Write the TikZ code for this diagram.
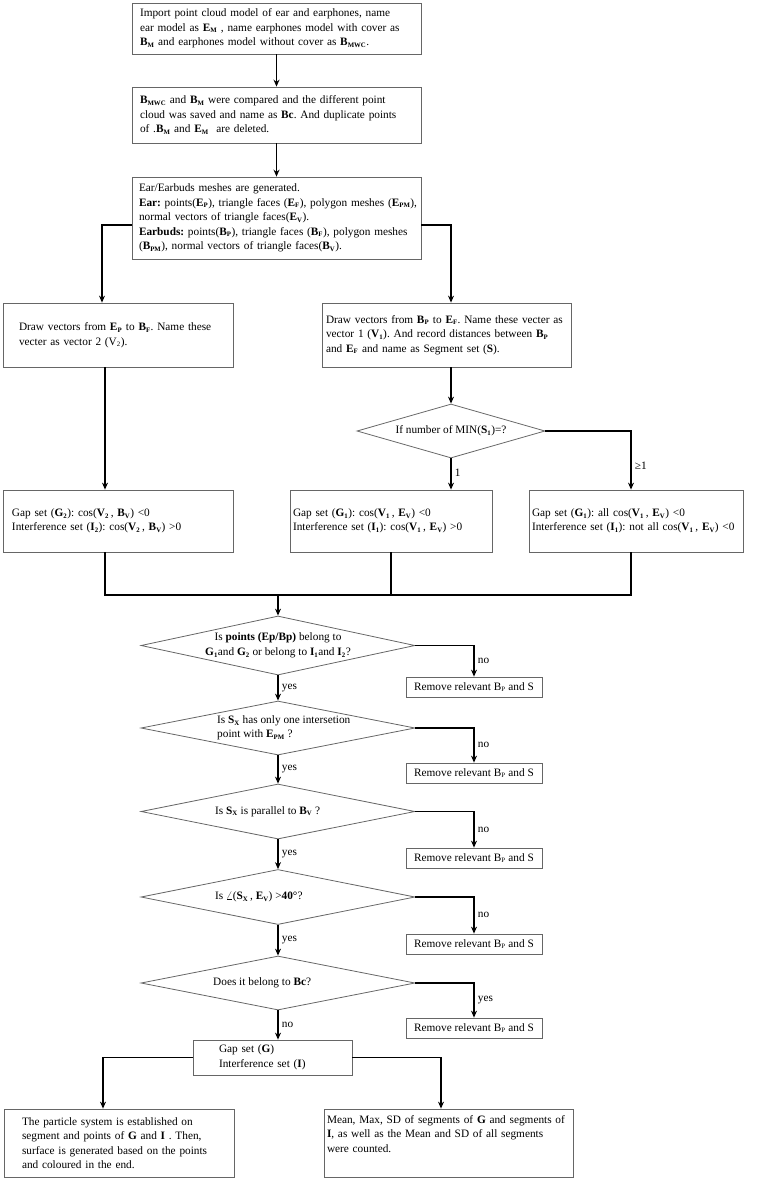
\documentclass[tikz,border=0pt]{standalone}
\usepackage{fontspec}
\setmainfont{Liberation Serif}
\usetikzlibrary{shapes.geometric,arrows.meta}
\newcommand{\bvar}[2]{\textbf{#1}\textsubscript{\textbf{\fontsize{6.8}{7}\selectfont #2}}}
\newcommand{\nvar}[2]{#1\textsubscript{\fontsize{6.8}{7}\selectfont #2}}
\frenchspacing
\begin{document}
\begin{tikzpicture}[x=1pt,y=-1pt,>={Stealth[length=7pt,width=6pt]},
    font=\fontsize{11.3}{14.5}\selectfont,
    box/.style={draw=black!60,line width=0.8pt,align=left,inner ysep=0pt},
    rbox/.style={draw=black!60,line width=0.8pt,inner sep=0pt,minimum width=136pt,minimum height=20pt},
    dia/.style={draw=black!60,line width=0.8pt,diamond,inner sep=0pt,minimum width=274pt,minimum height=#1},
    dtext/.style={align=left,inner sep=0pt},
    conn/.style={->,line width=1.1pt},
    line/.style={line width=1.1pt}]
    \useasboundingbox (0,0) rectangle (764,1180);
    % preparazione dei modelli
    \node[box,inner xsep=8pt,text width=273pt,minimum height=51pt] (start) at (276.5,28.5)
        {Import point cloud model of ear and earphones, name\\
         ear model as \bvar{E}{M} , name earphones model with cover as\\
         \bvar{B}{M} and earphones model without cover as \bvar{B}{MWC}.};
    \node[box,inner xsep=8pt,text width=273pt,minimum height=56pt] (cmp) at (276.5,115)
        {\bvar{B}{MWC} and \bvar{B}{M} were compared and the different point\\
         cloud was saved and name as \textbf{Bc}. And duplicate points\\
         of .\bvar{B}{M} and \bvar{E}{M}\ \ are deleted.};
    \node[box,inner xsep=7pt,text width=275pt,minimum height=82pt] (mesh) at (276.5,218)
        {Ear/Earbuds meshes are generated.\\
         \mbox{\textbf{Ear:} points(\bvar{E}{P}), triangle faces (\bvar{E}{F}), polygon meshes (\bvar{E}{PM}),}\\
         normal vectors of triangle faces(\bvar{E}{V}).\\
         \textbf{Earbuds:} points(\bvar{B}{P}), triangle faces (\bvar{B}{F}), polygon meshes\\
         (\bvar{B}{PM}), normal vectors of triangle faces(\bvar{B}{V}).};
    % vettori
    \node[box,inner xsep=16pt,text width=198pt,minimum height=64pt] (vtwo) at (118,335)
        {Draw vectors from \bvar{E}{P} to \bvar{B}{F}. Name these\\
         vecter as vector 2 (\nvar{V}{2}).};
    \node[box,inner xsep=4pt,text width=241pt,minimum height=64pt] (vone) at (446.5,335)
        {Draw vectors from \bvar{B}{P} to \bvar{E}{F}. Name these vecter as\\
         vector 1 (\bvar{V}{1}). And record distances between \bvar{B}{P}\\
         and \bvar{E}{F} and name as Segment set (\textbf{S}).};
    \node[dia=54pt,minimum width=188pt] (nmin) at (451,431) {};
    \node[dtext] (nmint) at (nmin) {If number of MIN(\bvar{S}{1})=?};
    % insiemi gap / interferenza
    \node[box,inner xsep=9pt,text width=212pt,minimum height=62pt] (gtwo) at (118,521)
        {Gap set (\bvar{G}{2}): cos(\bvar{V}{2}\,, \bvar{B}{V}) <0\\
         Interference set (\bvar{I}{2}): cos(\bvar{V}{2}\,, \bvar{B}{V}) >0};
    \node[box,inner xsep=3pt,text width=196pt,minimum height=62pt] (gone) at (391,521)
        {Gap set (\bvar{G}{1}): cos(\bvar{V}{1}\,, \bvar{E}{V}) <0\\
         Interference set (\bvar{I}{1}): cos(\bvar{V}{1}\,, \bvar{E}{V}) >0};
    \node[box,inner xsep=3pt,text width=208pt,minimum height=62pt] (gall) at (636,521)
        {Gap set (\bvar{G}{1}): all cos(\bvar{V}{1}\,, \bvar{E}{V}) <0\\
         Interference set (\bvar{I}{1}): not all cos(\bvar{V}{1}\,, \bvar{E}{V}) <0};
    \coordinate (mrg) at (278,595);
    % controlli
    \node[dia=59pt] (q1) at (278,645.5) {};
    \node[dtext,align=center] (q1t) at (q1)
        {Is \textbf{points (Ep/Bp)} belong to\\
         \bvar{G}{1}and \bvar{G}{2} or belong to \bvar{I}{1}and \bvar{I}{2}?};
    \node[dia=54pt] (q2) at (278,728) {};
    \node[dtext,anchor=west] (q2t) at ([xshift=-61pt]q2.center)
        {Is \bvar{S}{X} has only one intersetion\\ point with \bvar{E}{PM} ?};
    \node[dia=55pt] (q3) at (278,811.5) {};
    \node[dtext,anchor=west] (q3t) at ([xshift=-63pt]q3.center)
        {Is \bvar{S}{X} is parallel to \bvar{B}{V} ?};
    \node[dia=55pt] (q4) at (278,897) {};
    \node[dtext,anchor=west] (q4t) at ([xshift=-63pt]q4.center)
        {Is $\angle$(\bvar{S}{X}\,, \bvar{E}{V}) >\textbf{40°}?};
    \node[dia=54pt] (q5) at (278,983) {};
    \node[dtext,anchor=west] (q5t) at ([xshift=-65pt]q5.center)
        {Does it belong to \textbf{Bc}?};
    % rimozione
    \node[rbox] (r1) at (474,687) {Remove relevant \nvar{B}{P} and S};
    \node[rbox] (r2) at (474,773) {Remove relevant \nvar{B}{P} and S};
    \node[rbox] (r3) at (474,858) {Remove relevant \nvar{B}{P} and S};
    \node[rbox] (r4) at (474,944) {Remove relevant \nvar{B}{P} and S};
    \node[rbox] (r5) at (474,1028) {Remove relevant \nvar{B}{P} and S};
    % risultati
    \node[box,inner xsep=26pt,text width=107pt,minimum height=35pt] (gi) at (272.5,1057.5)
        {Gap set (\textbf{G})\\ Interference set (\textbf{I})};
    \node[box,inner xsep=18pt,text width=194pt,minimum height=68pt] (part) at (119,1143)
        {The particle system is established on\\
         segment and points of \textbf{G} and \textbf{I} . Then,\\
         surface is generated based on the points\\
         and coloured in the end.};
    \node[box,inner xsep=3pt,text width=243pt,minimum height=68pt] (stat) at (448.5,1143)
        {Mean, Max, SD of segments of \textbf{G} and segments of\\
         \textbf{I}, as well as the Mean and SD of all segments\\
         were counted.\\ \strut};
    % frecce
    \draw[conn] (start) -- (cmp);
    \draw[conn] (cmp) -- (mesh);
    \draw[conn] ([yshift=-7pt]mesh.west) -| ([xshift=-16pt]vtwo.north);
    \draw[conn] ([yshift=-7pt]mesh.east) -| ([xshift=4.5pt]vone.north);
    \draw[conn] ([xshift=4.5pt]vone.south) -- (nmin.north);
    \draw[conn] (nmin.south) -- node[right,pos=0.45] {1} (nmin.south |- gone.north);
    \draw[conn] (nmin.east) -| node[right,pos=0.8] {≥1} ([xshift=-5pt]gall.north);
    \draw[conn] ([xshift=-13pt]vtwo.south) -- ([xshift=-13pt]gtwo.north);
    \draw[line] ([xshift=-13pt]gtwo.south) |- (mrg) -| ([xshift=-5pt]gall.south);
    \draw[line] (gone.south) -- (gone.south |- mrg);
    \draw[conn] (mrg) -- (q1.north);
    \draw[conn] (q1) -- node[right] {yes} (q2);
    \draw[conn] (q2) -- node[right] {yes} (q3);
    \draw[conn] (q3) -- node[right] {yes} (q4);
    \draw[conn] (q4) -- node[right] {yes} (q5);
    \draw[conn] (q5) -- node[right] {no} (q5.south |- gi.north);
    \draw[conn] (q1.east) -| node[right,pos=0.75] {no} (r1.north);
    \draw[conn] (q2.east) -| node[right,pos=0.75] {no} (r2.north);
    \draw[conn] (q3.east) -| node[right,pos=0.75] {no} (r3.north);
    \draw[conn] (q4.east) -| node[right,pos=0.75] {no} (r4.north);
    \draw[conn] (q5.east) -| node[right,pos=0.75] {yes} (r5.north);
    \draw[conn] (gi.west) -| ([xshift=-16pt]part.north);
    \draw[conn] (gi.east) -| ([xshift=-7.5pt]stat.north);
\end{tikzpicture}
\end{document}
